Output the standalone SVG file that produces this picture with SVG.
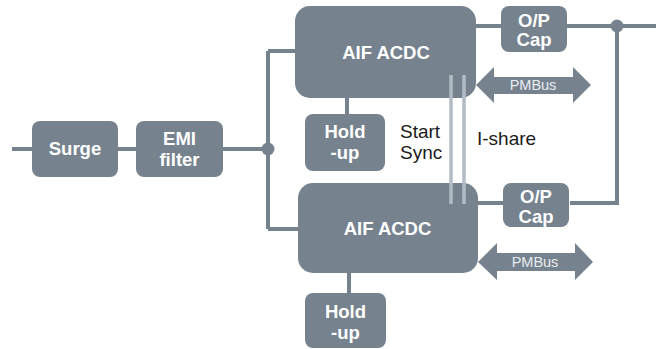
<svg xmlns="http://www.w3.org/2000/svg" width="656" height="349" viewBox="0 0 656 349">
<style>
.box{fill:#76838f}
.ln{stroke:#76838f;stroke-width:4;fill:none}
.lt{stroke:#b3bcc5;stroke-width:3.5;fill:none}
.bt{font-family:"Liberation Sans",Arial,sans-serif;font-weight:bold;font-size:18.5px;fill:#ffffff;text-anchor:middle}
.pm{font-family:"Liberation Sans",Arial,sans-serif;font-size:14.5px;fill:#e8ecef;text-anchor:middle}
.lb{font-family:"Liberation Sans",Arial,sans-serif;font-size:19px;fill:#1a1a1a}
</style>
<rect width="656" height="349" fill="#ffffff"/>
<g id="connectors">
<path class="ln" d="M12,149H32M118,149H136M223,149H268M268,51V229M268,51H295M268,229H298M347,98V114M349,273V293M476,26H501M567,26H656M617,26V203H570M478,203H503"/>
<circle cx="268" cy="149" r="6.5" fill="#76838f"/>
<circle cx="617" cy="26" r="6.5" fill="#76838f"/>
</g>
<g id="surge"><rect class="box" x="32" y="121" width="86" height="56" rx="8"/><text class="bt" x="75" y="155">Surge</text></g>
<g id="emi"><rect class="box" x="136" y="121" width="87" height="56" rx="8"/><text class="bt" x="179.5" y="145">EMI</text><text class="bt" x="179.5" y="166">filter</text></g>
<g id="acdc1"><rect class="box" x="295" y="6" width="181" height="92" rx="15"/><text class="bt" x="386" y="59">AIF ACDC</text></g>
<g id="acdc2"><rect class="box" x="298" y="183" width="180" height="90" rx="15"/><text class="bt" x="387.5" y="235">AIF ACDC</text></g>
<g id="hold1"><rect class="box" x="305" y="114" width="80" height="57" rx="8"/><text class="bt" x="345" y="138">Hold</text><text class="bt" x="345" y="159">-up</text></g>
<g id="hold2"><rect class="box" x="305" y="293" width="81" height="55" rx="8"/><text class="bt" x="345.5" y="318">Hold</text><text class="bt" x="345.5" y="339">-up</text></g>
<g id="cap1"><rect class="box" x="501" y="6" width="66" height="46" rx="8"/><text class="bt" x="534" y="27">O/P</text><text class="bt" x="534" y="46">Cap</text></g>
<g id="cap2"><rect class="box" x="503" y="183" width="66" height="44" rx="8"/><text class="bt" x="536" y="203">O/P</text><text class="bt" x="536" y="223">Cap</text></g>
<g id="sharelines"><path class="lt" d="M451,75V204M464,75V204"/></g>
<g id="pmbus1"><polygon class="box" points="476,85 494,67 494,77 573,77 573,67 591,85 573,103 573,94 494,94 494,103"/><text class="pm" x="533" y="90">PMBus</text></g>
<g id="pmbus2"><polygon class="box" points="478,262 497,243 497,253 575,253 575,243 593,262 575,280 575,271 497,271 497,280"/><text class="pm" x="535" y="267">PMBus</text></g>
<g id="labels">
<text class="lb" x="400" y="138">Start</text>
<text class="lb" x="400" y="159">Sync</text>
<text class="lb" x="477" y="145">I-share</text>
</g>
</svg>
